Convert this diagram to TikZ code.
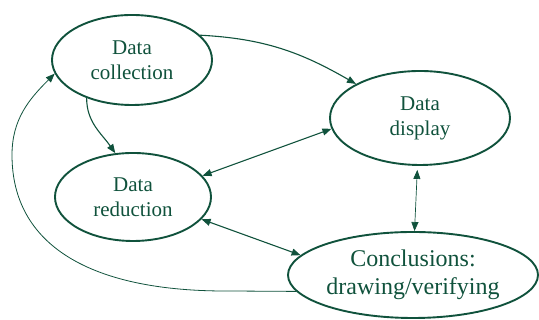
\documentclass[tikz,border=0pt]{standalone}
\usepackage{fontspec}
\setmainfont{Liberation Serif}
\usetikzlibrary{shapes.geometric,arrows.meta}
\definecolor{ink}{RGB}{16,82,60}

\begin{document}
\begin{tikzpicture}[x=1pt,y=1pt,
    stage/.style={ellipse,draw=ink,line width=1.9pt,inner sep=0pt,align=center,
      text=ink,font=\fontsize{21}{25}\selectfont},
    flow/.style={draw=ink,line width=1.1pt,-{Triangle[length=9pt,width=7pt]}},
    twoway/.style={flow,{Triangle[length=9pt,width=7pt]}-{Triangle[length=9pt,width=7pt]}}]
  \useasboundingbox (0,0) rectangle (539,320);

  % Stages
  \node[stage,minimum width=160pt,minimum height=90pt] (coll) at (132,260) {Data\\collection};
  \node[stage,minimum width=180pt,minimum height=94pt] (disp) at (420,202) {Data\\display};
  \node[stage,minimum width=156pt,minimum height=88pt] (red) at (133,123) {Data\\reduction};
  \node[stage,minimum width=250pt,minimum height=86pt,font=\fontsize{24}{28}\selectfont]
    (concl) at (413,45) {Conclusions:\\drawing/verifying};

  % Bends of the long loop
  \coordinate (loopbot) at (230,29);
  \coordinate (loopleft) at (12,165);

  % Arrows
  \draw[flow] (coll.20) to[out=-3,in=150] (disp.152);
  \draw[flow] (coll.220) to[out=-90,in=125] (red.112);
  \draw[twoway] (disp.187) -- (red.17);
  \draw[twoway] (red.-18) -- (concl.170);
  \draw[twoway,line width=0.7pt,shorten <=4pt] (disp.267) -- (concl.88);
  \draw[flow,line width=0.8pt] (concl.188) -- (loopbot)
    .. controls (90,28) and (12,75) .. (loopleft)
    to[out=90,in=225] (coll.190);
\end{tikzpicture}
\end{document}
